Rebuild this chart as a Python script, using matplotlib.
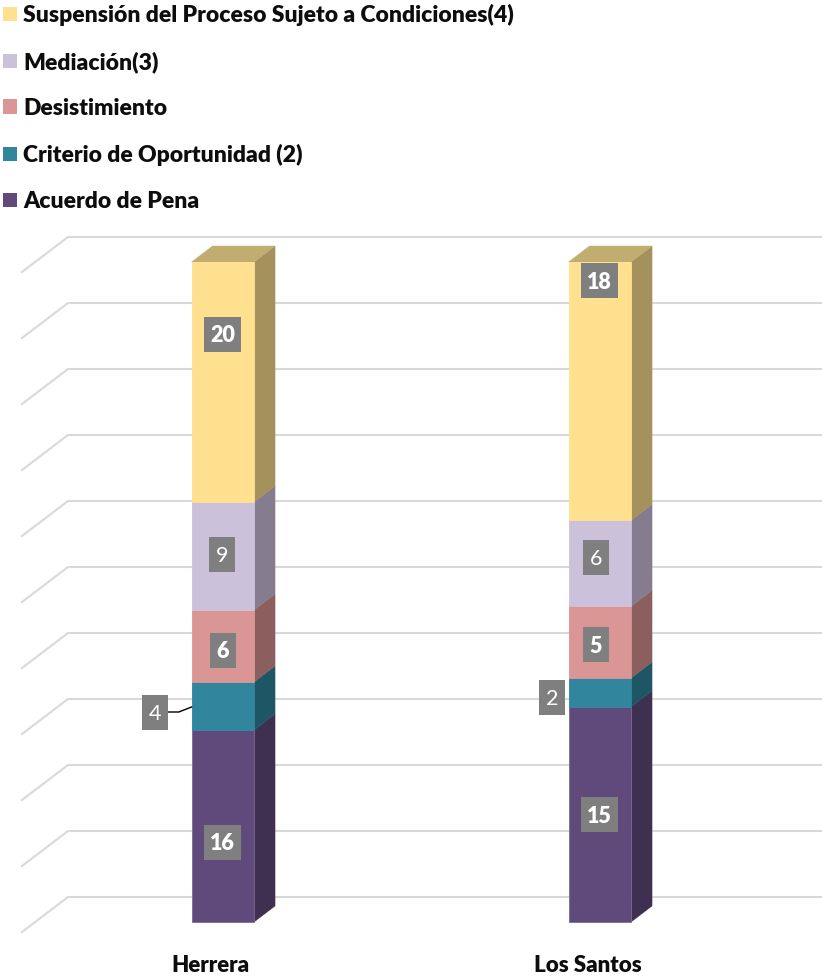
import matplotlib
matplotlib.use("Agg")
import matplotlib.pyplot as plt
from matplotlib.patches import Polygon, Rectangle, Patch
import numpy as np

plt.rcParams['font.family'] = ['Lato', 'DejaVu Sans']

# ---- data ----
categories = ["Herrera", "Los Santos"]
series_names = ["Acuerdo de Pena", "Criterio de Oportunidad (2)", "Desistimiento",
                "Mediación(3)", "Suspensión del Proceso Sujeto a Condiciones(4)"]
acuerdo = [16, 15]
criterio = [4, 2]
desistimiento = [6, 5]
mediacion = [9, 6]
suspension = [20, 18]
all_series = [acuerdo, criterio, desistimiento, mediacion, suspension]
grid_levels = [0, 10, 20, 30, 40, 50, 60, 70, 80, 90, 100]

# ---- style ----
front_cols = ["#604A7B", "#31859C", "#D99694", "#CCC1DA", "#FFE08F"]
side_cols = ["#3F2F50", "#1F5665", "#8B5F5E", "#857D8F", "#A5915C"]
edge_cols = ["#7D6A94", "#31859C", "#D99694", "#CCC1DA", "#FFE08F"]
top_col = "#C1AD6F"
label_bold = [[True, True], [False, False], [True, True], [False, False], [True, True]]
# label box centre offset from the segment centre, pixels (right, down)
label_off = [[(0, 16), (0, 0)], [(-68, 6), (-48, 5)], [(0, 4), (-4, 2)],
             [(-1, -2), (-4, -6)], [(0, -48), (0, -111)]]

W, H = 822, 976
PX_CAT, PX_PCT = 377.0, 6.6     # pixels per category / per percent
X0_PX, Y0_PX = 222.8, 922.0     # pixel position of category 0 / value 0
BAR_W = 62.5 / PX_CAT
DX, DY = 21 / PX_CAT, 16 / PX_PCT
FS = 16.0
LEG_FS = 16.5
LABEL_FS = 15.5
WEIGHT = 800

fig = plt.figure(figsize=(W / 100, H / 100), dpi=100, facecolor="white")
ax = fig.add_axes([0, 0, 1, 1])
ax.set_xlim(-X0_PX / PX_CAT, (W - X0_PX) / PX_CAT)
ax.set_ylim(-(H - Y0_PX) / PX_PCT, Y0_PX / PX_PCT)
ax.axis("off")

# floor/wall grid lines
back_up = 25 / PX_PCT       # back wall is 25 px above the bar's zero level
floor_down = 10 / PX_PCT    # front end is 10 px below it
x_back = (68 - X0_PX) / PX_CAT
x_front = (22 - X0_PX) / PX_CAT
x_right = (W - X0_PX) / PX_CAT
for g in grid_levels:
    ax.plot([x_front, x_back, x_right], [g - floor_down, g + back_up, g + back_up],
            color="#D9D9D9", lw=1.5, solid_joinstyle="miter", zorder=1)

# stacked 100 % bars with side and top faces
data = np.array(all_series, dtype=float)
totals = data.sum(axis=0)
for c, cat in enumerate(categories):
    left = c - BAR_W / 2
    right = c + BAR_W / 2
    bottom = 0.0
    for s in range(len(series_names)):
        h = data[s, c] / totals[c] * 100
        ax.add_patch(Polygon([(right, bottom), (right + DX, bottom + DY),
                              (right + DX, bottom + h + DY), (right, bottom + h)],
                             closed=True, fc=side_cols[s], ec=side_cols[s], lw=0.3, zorder=3))
        ax.bar(c, h, BAR_W, bottom=bottom, color=front_cols[s], edgecolor=edge_cols[s],
               linewidth=0.6, zorder=4)
        if s == len(series_names) - 1:
            ax.add_patch(Polygon([(left, bottom + h), (left + DX, bottom + h + DY),
                                  (right + DX, bottom + h + DY), (right, bottom + h)],
                                 closed=True, fc=top_col, ec=top_col, lw=0.3, zorder=3))
        # data label
        val = int(data[s, c])
        ox, oy = label_off[s][c]
        cx = c + ox / PX_CAT
        cy = bottom + h / 2 - oy / PX_PCT
        bw = (37 if val >= 10 else 26) / PX_CAT
        bh = 35 / PX_PCT
        if s == 1 and c == 0:  # leader line
            ax.plot([cx + bw / 2, cx + bw / 2 + 11 / PX_CAT, left],
                    [cy, cy, cy + 5 / PX_PCT], color="black", lw=1.0, zorder=5)
        ax.add_patch(Rectangle((cx - bw / 2, cy - bh / 2), bw, bh, fc="#7F7F7F", ec="none", zorder=6))
        ax.text(cx, cy, str(val), color="white", fontsize=LABEL_FS,
                fontweight=WEIGHT if label_bold[s][c] else "normal",
                ha="center", va="center_baseline", zorder=7)
        bottom += h
    # category label
    ax.text(c - 12 / PX_CAT, -(966 - Y0_PX) / PX_PCT, cat, fontsize=FS, fontweight=WEIGHT,
            color="#0D0D0D", ha="center", va="center")

# legend
handles = [Patch(fc=front_cols[s], ec="none", label=series_names[s])
           for s in reversed(range(len(series_names)))]
leg = ax.legend(handles=handles, loc="upper left", bbox_to_anchor=(3 / W, 1 - 4 / H),
                bbox_transform=fig.transFigure, frameon=False,
                handlelength=0.61, handleheight=0.61, handletextpad=0.26,
                labelspacing=1.09, borderpad=0, borderaxespad=0,
                prop={"size": LEG_FS, "weight": WEIGHT}, labelcolor="#0D0D0D")

fig.savefig("out.png", dpi=100, facecolor="white")
